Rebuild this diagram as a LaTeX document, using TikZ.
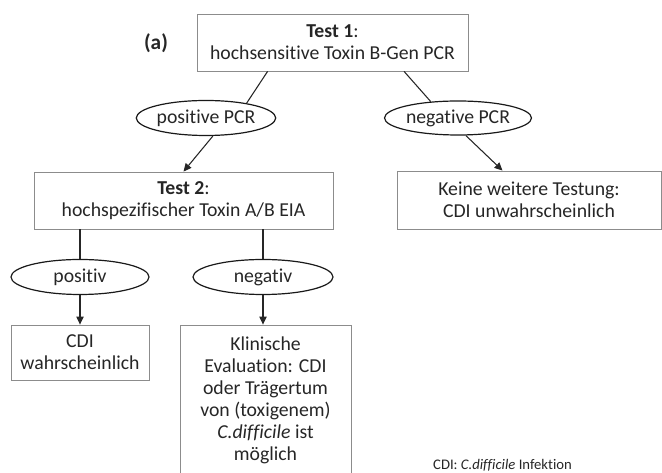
\documentclass[tikz,border=0pt]{standalone}
\usepackage{fontspec}
\setmainfont{Carlito}[Ligatures={NoCommon,NoRequired,NoContextual}]
\usetikzlibrary{shapes.geometric,arrows.meta}

\begin{document}
\begin{tikzpicture}[x=0.75pt,y=-0.75pt,
  box/.style={draw=black!45, line width=0.6pt, align=center, inner sep=0pt,
    text=black!85, font=\fontsize{14.8}{16.5}\selectfont},
  oval/.style={ellipse, draw=black!90, line width=0.9pt, inner sep=0pt,
    text=black!85, font=\fontsize{14.8}{16.5}\selectfont},
  link/.style={draw=black!85, line width=0.8pt},
  arr/.style={link, -{Triangle[length=6pt,width=5.5pt]}}]
  % Fix the page to the size of the reference
  \useasboundingbox (0,0) rectangle (662,473);

  % Label of the panel
  \node[font=\fontsize{16}{19}\selectfont\bfseries, text=black!85] (panel) at (156,43) {(a)};

  % Test boxes and results
  \node[box, minimum width=203.25pt, minimum height=42.75pt] (test1) at (332.5,42.5)
    {\textbf{Test 1}:\\hochsensitive Toxin B-Gen PCR};
  \node[box, minimum width=224.25pt, minimum height=42.75pt] (test2) at (183.5,200.5)
    {\textbf{Test 2}:\\hochspezifischer Toxin A/B EIA};
  \node[box, minimum width=198pt, minimum height=43.5pt] (keine) at (529,200)
    {Keine weitere Testung:\\CDI unwahrscheinlich};
  \node[box, minimum width=103.5pt, minimum height=41.25pt] (cdi) at (80,352.5)
    {CDI\\wahrscheinlich};
  \node[box, minimum width=128.25pt, minimum height=113.25pt] (klin) at (265.5,400.5)
    {Klinische\\Evaluation: CDI\\oder Trägertum\\von (toxigenem)\\\textit{C.difficile} ist\\möglich};

  % Ovals with the outcomes
  \node[oval, minimum width=103.5pt, minimum height=26.25pt] (pospcr) at (206,118) {positive PCR};
  \node[oval, minimum width=104.25pt, minimum height=25.5pt] (negpcr) at (458,118) {negative PCR};
  \node[oval, minimum width=103.5pt, minimum height=26.25pt] (pos) at (80,277) {positiv};
  \node[oval, minimum width=105pt, minimum height=26.25pt] (neg) at (263,277) {negativ};

  % Connectors
  \draw[link] (test1.204) -- (pospcr.20);
  \draw[link] (test1.338) -- (negpcr.149);
  \draw[arr] (pospcr.291) -- (test2.north);
  \draw[arr] (negpcr.294) -- (keine.132);
  \draw[link] (test2.south -| pos) -- (pos);
  \draw[link] (test2.south -| neg) -- (neg);
  \draw[arr] (pos) -- (cdi);
  \draw[arr] (neg.south) -- (neg.south |- klin.north);

  % Note
  \node[font=\fontsize{11}{13}\selectfont, text=black!85] (note) at (502.5,465)
    {CDI: \textit{C.difficile} Infektion};
\end{tikzpicture}
\end{document}
